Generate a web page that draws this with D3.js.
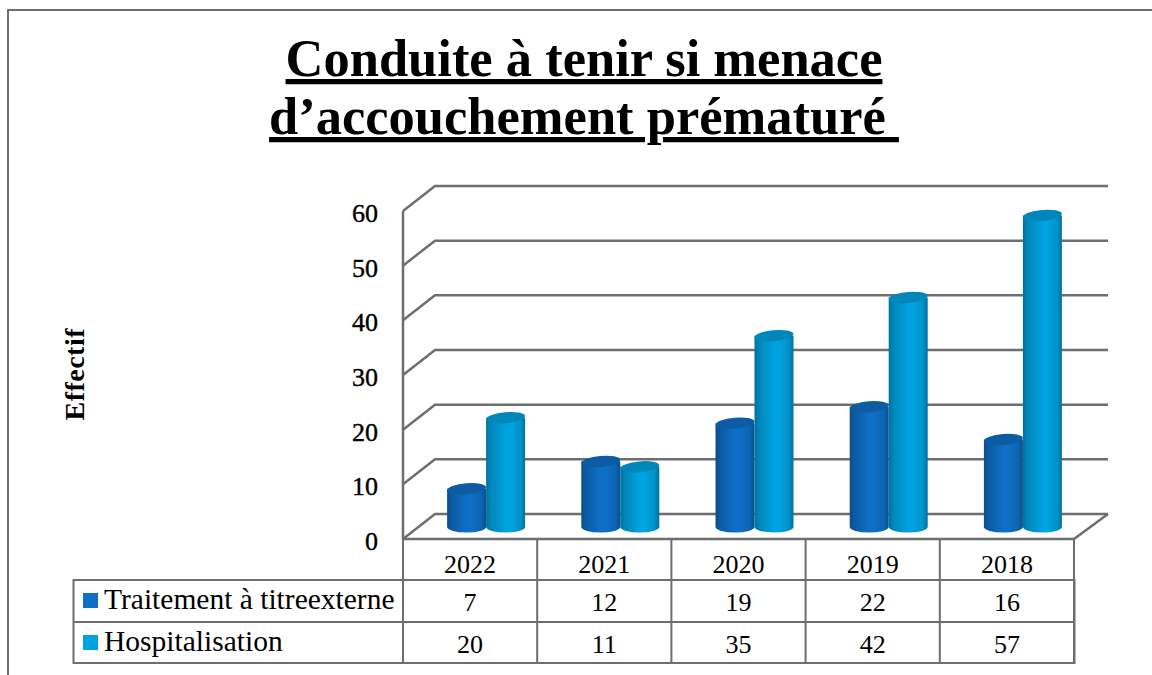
<!DOCTYPE html>
<html>
<head>
<meta charset="utf-8">
<script src="https://cdn.jsdelivr.net/npm/d3@7"></script>
<style>
  html, body { margin: 0; padding: 0; background: #fff; }
  svg { display: block; }
  text { font-family: "Liberation Serif", serif; fill: #000; }
  .num { font-variant-numeric: oldstyle-nums; }
</style>
</head>
<body>
<svg></svg>
<script>
const width = 1152;
const height = 675;

const years = ["2022", "2021", "2020", "2019", "2018"];
const traitement = [7, 12, 19, 22, 16];
const hospitalisation = [20, 11, 35, 42, 57];
const seriesNames = ["Traitement à titreexterne", "Hospitalisation"];
const seriesColors = ["#0f6fc6", "#00a3e0"];
const yTicks = [0, 10, 20, 30, 40, 50, 60];
const titleLines = ["Conduite à tenir si menace", "d’accouchement prématuré "];

const gridColor = "#6e6e6e";
const depth = { x: 32, y: -25 };

const svg = d3.select("svg").attr("width", width).attr("height", height);
const defs = svg.append("defs");

// side shading of the cylinders
seriesColors.forEach((c, i) => {
  const g = defs.append("linearGradient").attr("id", `cyl${i}`);
  const col = d3.color(c);
  [[0, col.darker(1)], [0.12, col.darker(0.55)], [0.5, col], [0.62, col], [0.88, col.darker(0.3)], [1, col.darker(1)]]
    .forEach(([o, k]) => g.append("stop").attr("offset", o).attr("stop-color", k));
});

const x = d3.scaleBand().domain(years).range([403, 1074]);
const y = d3.scaleLinear().domain([0, 60]).range([539, 211]);
const barX = d3.scaleBand().domain([0, 1]).range([0, 78]);

// page frame
svg.append("path")
  .attr("d", `M8,${height}V10H${width}`)
  .attr("fill", "none").attr("stroke", gridColor).attr("stroke-width", 2);

// title
svg.append("g").selectAll("text").data(titleLines).join("text")
  .attr("x", 584)
  .attr("y", (d, i) => 76 + i * 58)
  .attr("text-anchor", "middle")
  .attr("font-size", 52.5)
  .attr("font-weight", "bold")
  .attr("text-decoration", "underline")
  .style("white-space", "pre")
  .text(d => d);

// walls and gridlines
const grid = svg.append("g").attr("fill", "none").attr("stroke", gridColor).attr("stroke-width", 2.5);
grid.selectAll("path").data(yTicks).join("path")
  .attr("d", d => `M403,${y(d)}l${depth.x},${depth.y}H1108`);
grid.append("path").attr("d", `M1108,${y(0) + depth.y}L1074,${y(0)}H403`);
grid.append("path").attr("d", `M403,${y(60)}V${y(0)}`);

// y tick labels
svg.append("g").selectAll("text").data(yTicks).join("text")
  .attr("class", "num")
  .attr("x", 378)
  .attr("y", d => y(d) + 11)
  .attr("text-anchor", "end")
  .attr("font-size", 26)
  .attr("stroke", "#000")
  .attr("stroke-width", 0.4)
  .text(d => d);

svg.append("text")
  .attr("transform", "translate(84,374.5) rotate(-90)")
  .attr("text-anchor", "middle")
  .attr("font-size", 28)
  .attr("font-weight", "bold")
  .attr("textLength", 92)
  .text("Effectif");

// cylinders
const baseY = y(0) + depth.y * 0.48;
const unit = y(0) - y(1);
const rx = 19.5, ry = 5.5;

function drawSeries(values, i) {
  const g = svg.append("g");
  const cols = g.selectAll("g").data(values).join("g")
    .attr("transform", (d, k) => `translate(${x(years[k]) + x.bandwidth() / 2 - 23 + barX(i) + barX.bandwidth() / 2},0)`);
  cols.append("path")
    .attr("d", d => {
      const top = baseY - d * unit;
      return `M${-rx},${top}V${baseY}A${rx},${ry} 0 0 0 ${rx},${baseY}V${top}Z`;
    })
    .attr("fill", `url(#cyl${i})`);
  cols.append("ellipse")
    .attr("cy", d => baseY - d * unit)
    .attr("rx", rx)
    .attr("ry", ry)
    .attr("transform", d => `rotate(-5,0,${baseY - d * unit})`)
    .attr("fill", d3.color(seriesColors[i]).darker(0.55));
}
drawSeries(traitement, 0);
drawSeries(hospitalisation, 1);

// data table
const rowY = d3.scaleOrdinal().domain(["head", 0, 1]).range([539, 580, 622]);
const table = svg.append("g").attr("fill", "none").attr("stroke", gridColor).attr("stroke-width", 2);
table.append("rect").attr("x", 73.5).attr("y", 580).attr("width", 1001).attr("height", 83);
table.append("path").attr("d", `M73.5,622H1074.5`);
table.selectAll("line").data(years.concat("end")).join("line")
  .attr("x1", (d, k) => 403 + k * x.bandwidth())
  .attr("x2", (d, k) => 403 + k * x.bandwidth())
  .attr("y1", 539).attr("y2", 663);

const cellX = d => x(d) + x.bandwidth() / 2;
svg.append("g").selectAll("text").data(years).join("text")
  .attr("class", "num")
  .attr("x", cellX)
  .attr("y", 573)
  .attr("text-anchor", "middle")
  .attr("font-size", 26)
  .text(d => d);

[traitement, hospitalisation].forEach((vals, i) => {
  const ry0 = rowY(i);
  svg.append("g").selectAll("text").data(vals).join("text")
    .attr("class", "num")
    .attr("x", (d, k) => cellX(years[k]))
    .attr("y", ry0 + 31)
    .attr("text-anchor", "middle")
    .attr("font-size", 26)
    .text(d => d);
  svg.append("rect")
    .attr("x", 83).attr("y", ry0 + 13)
    .attr("width", 15).attr("height", 15)
    .attr("fill", seriesColors[i]);
  svg.append("text")
    .attr("x", 104).attr("y", ry0 + 29)
    .attr("font-size", 29.5)
    .text(seriesNames[i]);
});
</script>
</body>
</html>
